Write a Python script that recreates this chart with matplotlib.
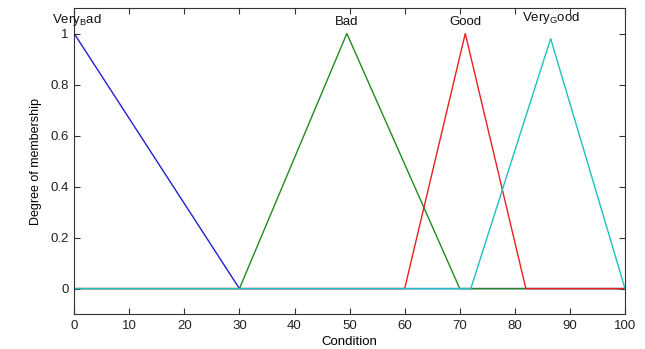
import matplotlib
matplotlib.use("Agg")
import matplotlib.pyplot as plt

plt.rcParams['font.family'] = ['Liberation Sans', 'DejaVu Sans']
plt.rcParams['mathtext.fontset'] = 'custom'
plt.rcParams['mathtext.rm'] = 'Liberation Sans'

# Triangular membership functions for "Condition" (vertices over the universe 0..100)
x_range = [0, 100]
very_bad_x = [0, 0, 30, 100]
very_bad_y = [1, 1, 0, 0]
bad_x = [0, 30, 49.5, 70, 100]
bad_y = [0, 0, 1, 0, 0]
good_x = [0, 60, 71, 82, 100]
good_y = [0, 0, 1, 0, 0]
very_good_x = [0, 72, 86.5, 100]
very_good_y = [0, 0, 0.98, 0]

mf_names = [r'Very$_{\mathrm{B}}$ad', 'Bad', 'Good', r'Very$_{\mathrm{G}}$ood']
mf_peaks = [0.5, 49.5, 71, 86.5]
mf_label_y = [1.022, 1.022, 1.022, 1.03]
colors = ['#2020d0', '#208a20', '#e82020', '#20c0c0']

xticks = list(range(0, 101, 10))
yticks = [0, 0.2, 0.4, 0.6, 0.8, 1]

fig = plt.figure(figsize=(6.45, 3.49), dpi=100)
ax = fig.add_axes([0.115, 0.10, 0.854, 0.877])

series = [(very_bad_x, very_bad_y), (bad_x, bad_y), (good_x, good_y), (very_good_x, very_good_y)]
for (xs, ys), c in zip(series, colors):
    ax.plot(xs, ys, color=c, lw=1.0)

for name, px, py in zip(mf_names, mf_peaks, mf_label_y):
    ax.text(px, py, name, ha='center', va='bottom', fontsize=9.5, color='#111111')

ax.set_xlim(x_range)
ax.set_ylim(-0.1, 1.1)
ax.set_xticks(xticks)
ax.set_yticks(yticks)
ax.set_yticklabels(['0', '0.2', '0.4', '0.6', '0.8', '1'])
ax.tick_params(direction='in', top=True, right=True, length=4, width=0.8,
               labelsize=9.5, colors='#333333', labelcolor='#222222', pad=4)
for s in ax.spines.values():
    s.set_color('#333333')
    s.set_linewidth(0.8)

ax.set_xlabel('Condition', fontsize=9.5, labelpad=3)
ax.set_ylabel('Degree of membership', fontsize=9, labelpad=6)

fig.savefig('out.png', dpi=100, facecolor='white')
